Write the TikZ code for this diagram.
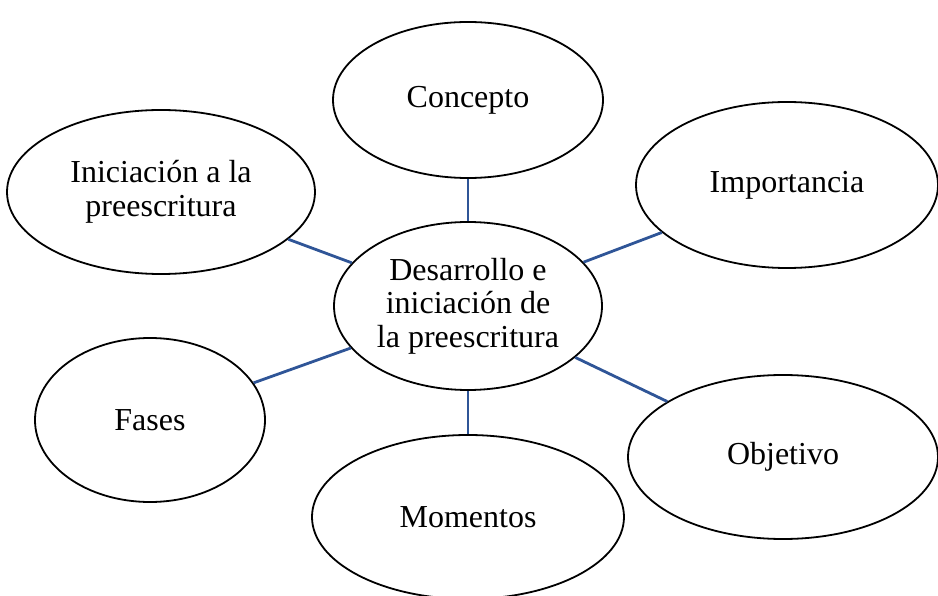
\documentclass[tikz,border=0pt]{standalone}
\usepackage{fontspec}
\setmainfont{Liberation Serif}
\usetikzlibrary{shapes.geometric}
\definecolor{linkblue}{RGB}{47,85,151}

\begin{document}
\begin{tikzpicture}[
        x=1pt, y=-1pt,
        every node/.style={font=\fontsize{32}{33.5}\selectfont, align=center},
        bubble/.style={ellipse, draw=black, line width=1.8pt, fill=white, inner sep=0pt},
        link/.style={draw=linkblue, line width=2.8pt}
    ]
    \useasboundingbox (0,0) rectangle (938,596);
    % Nodes
    \node[bubble, minimum width=270pt, minimum height=156pt] (concepto) at (468,100) {Concepto};
    \node[bubble, minimum width=308pt, minimum height=164pt] (iniciacion) at (161,192) {Iniciación a la\\preescritura};
    \node[bubble, minimum width=302pt, minimum height=166pt] (importancia) at (787,185) {Importancia};
    \node[bubble, minimum width=268pt, minimum height=168pt] (centro) at (468,306) {Desarrollo e\\iniciación de\\la preescritura};
    \node[bubble, minimum width=230pt, minimum height=164pt] (fases) at (150,420) {Fases};
    \node[bubble, minimum width=310pt, minimum height=164pt] (objetivo) at (783,457) {Objetivo};
    \node[bubble, minimum width=312pt, minimum height=164pt] (momentos) at (468,517) {Momentos};
    % Lines
    \draw[link] (concepto) -- (centro);
    \draw[link] (importancia) -- (centro);
    \draw[link] (iniciacion) -- (centro);
    \draw[link] (fases) -- (centro);
    \draw[link] (objetivo) -- (centro);
    \draw[link] (momentos) -- (centro);
\end{tikzpicture}
\end{document}
